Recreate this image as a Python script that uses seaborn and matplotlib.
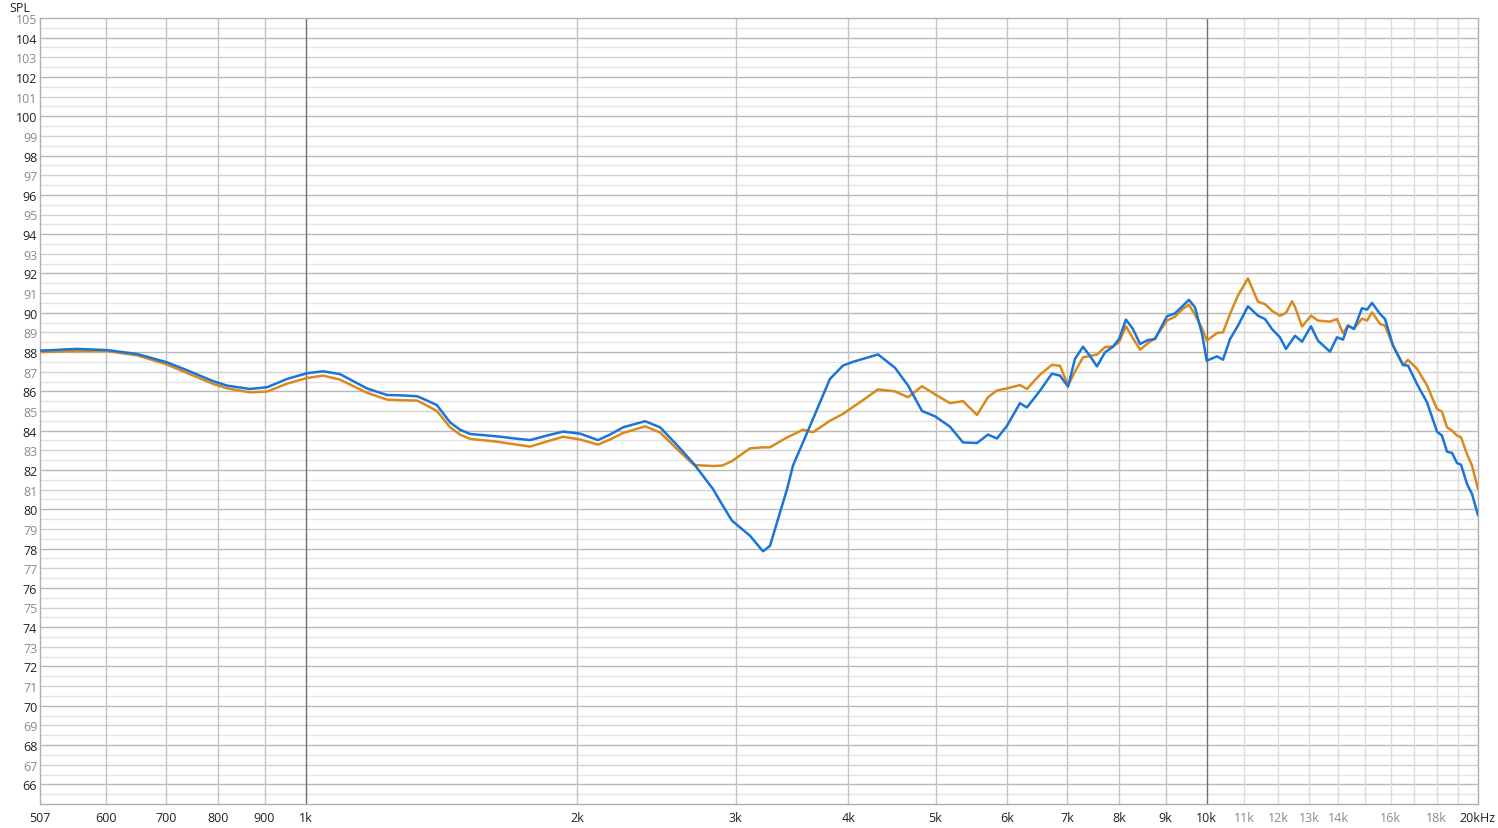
import matplotlib
matplotlib.use("Agg")
import matplotlib.pyplot as plt
import seaborn as sns
import numpy as np
import pandas as pd

# frequency response (Hz / dB SPL)
freq = [507, 557, 602, 650, 701, 734, 763, 789, 818, 867, 906, 953, 1003, 1045, 1091, 1169,
        1231, 1272, 1329, 1356, 1398, 1446, 1483, 1522, 1630, 1707, 1774, 1852, 1930, 2015,
        2110, 2176, 2250, 2380, 2473, 2582, 2697, 2831, 2897, 2972, 3112, 3217, 3275, 3360,
        3420, 3473, 3563, 3655, 3817, 3946, 4048, 4153, 4316,
        4507, 4660, 4830,
        4993, 5188, 5363, 5559, 5717, 5850, 6002, 6204, 6315, 6529, 6732, 6872, 7015, 7140,
        7288, 7420, 7553, 7709, 7868, 7991, 8134, 8281, 8432, 8604, 8760, 9032, 9219, 9410,
        9554, 9703, 9879, 10000, 10264, 10423, 10612, 10829, 11110, 11397, 11604, 11814,
        12056, 12243, 12434, 12529, 12756, 13053, 13287, 13700, 13948, 14165, 14346, 14570,
        14868, 15061, 15257, 15569, 15771, 16098, 16514, 16725, 17114, 17557, 18011, 18240,
        18478, 18718, 18957, 19150, 19448, 19696, 20000]

spl_blue = [88.07, 88.16, 88.10, 87.90, 87.48, 87.12, 86.80, 86.52, 86.29, 86.12, 86.21,
            86.63, 86.92, 87.02, 86.88, 86.15, 85.81, 85.80, 85.75, 85.58, 85.30, 84.42,
            84.05, 83.83, 83.71, 83.60, 83.52, 83.75, 83.95, 83.85, 83.52, 83.80, 84.17,
            84.48, 84.17, 83.27, 82.30, 81.03, 80.25, 79.42, 78.65, 77.86, 78.14, 79.84,
            81.00, 82.22, 83.40, 84.59, 86.63, 87.31, 87.50, 87.65, 87.88,
            87.20, 86.30, 85.00, 84.73,
            84.20, 83.40, 83.37, 83.80, 83.60, 84.25, 85.40, 85.18, 86.03, 86.90, 86.80,
            86.24, 87.65, 88.27, 87.80, 87.27, 87.98, 88.27, 88.66, 89.65, 89.17, 88.41,
            88.61, 88.66, 89.82, 89.97, 90.36, 90.66, 90.28, 88.92, 87.56, 87.78, 87.61,
            88.66, 89.34, 90.33, 89.85, 89.68, 89.17, 88.75, 88.16, 88.60, 88.83, 88.53,
            89.31, 88.58, 88.02, 88.75, 88.63, 89.34, 89.17, 90.23, 90.16, 90.50, 89.94,
            89.68, 88.32, 87.34, 87.31, 86.37, 85.44, 83.95, 83.75, 82.93, 82.86, 82.35,
            82.27, 81.28, 80.78, 79.70]

spl_orange = [88.00, 88.05, 88.05, 87.83, 87.37, 86.98, 86.66, 86.38, 86.15, 85.95, 85.99,
              86.39, 86.68, 86.80, 86.60, 85.93, 85.58, 85.55, 85.53, 85.33, 85.00, 84.17,
              83.80, 83.58, 83.44, 83.30, 83.19, 83.45, 83.69, 83.55, 83.29, 83.55, 83.88,
              84.22, 83.91, 83.07, 82.25, 82.20, 82.22, 82.45, 83.10, 83.15, 83.15, 83.45,
              83.65, 83.80, 84.05, 83.92, 84.50, 84.85, 85.20, 85.55, 86.10,
              86.00, 85.70, 86.26, 85.85,
              85.40, 85.50, 84.80, 85.70, 86.05, 86.15, 86.32, 86.12, 86.85, 87.35, 87.30,
              86.30, 87.00, 87.73, 87.80, 87.87, 88.25, 88.29, 88.50, 89.31, 88.70, 88.12,
              88.45, 88.70, 89.60, 89.80, 90.20, 90.41, 89.90, 89.20, 88.58, 88.97, 89.00,
              89.94, 90.87, 91.75, 90.56, 90.44, 90.10, 89.85, 89.99, 90.58, 90.30, 89.30,
              89.85, 89.60, 89.55, 89.68, 88.95, 89.35, 89.20, 89.70, 89.60, 90.02, 89.43,
              89.34, 88.32, 87.34, 87.60, 87.15, 86.30, 85.10, 84.97, 84.17, 84.00, 83.75,
              83.66, 82.80, 82.22, 81.03]

x_ticks = [507, 600, 700, 800, 900, 1000, 2000, 3000, 4000, 5000, 6000, 7000, 8000, 9000,
           10000, 11000, 12000, 13000, 14000, 16000, 18000, 20000]
x_labels = ["507", "600", "700", "800", "900", "1k", "2k", "3k", "4k", "5k", "6k", "7k",
            "8k", "9k", "10k", "11k", "12k", "13k", "14k", "16k", "18k", "20kHz"]
y_ticks = list(range(66, 106))

df = pd.DataFrame({"freq": freq, "blue": spl_blue, "orange": spl_orange})

sns.set_style("white")
plt.rcParams['font.family'] = ['Open Sans', 'DejaVu Sans']

fig = plt.figure(figsize=(14.98, 8.29), dpi=100)
ax = fig.add_axes([40 / 1498, 24 / 829, 1438 / 1498, 786 / 829])

# horizontal grid: darker on even dB, lighter on odd, faint on halves
for v in np.arange(65.5, 105, 0.5):
    if v % 1:
        c = "#e4e4e4"
    elif v % 2 == 0:
        c = "#b9b9b9"
    else:
        c = "#d2d2d2"
    ax.axhline(v, color=c, lw=1, zorder=0)

# vertical grid
for f in [600, 700, 800, 900] + list(range(2000, 10000, 1000)):
    ax.axvline(f, color="#c4c4c4", lw=1, zorder=0)
for f in range(11000, 20000, 1000):
    ax.axvline(f, color="#dcdcdc", lw=1, zorder=0)
for f in [1000, 10000]:
    ax.axvline(f, color="#707070", lw=1, zorder=0.5)

sns.lineplot(data=df, x="freq", y="orange", ax=ax, color="#d98a1c", lw=1.8, zorder=3,
             solid_joinstyle="round", solid_capstyle="round")
sns.lineplot(data=df, x="freq", y="blue", ax=ax, color="#1a75d6", lw=1.8, zorder=4,
             solid_joinstyle="round", solid_capstyle="round")

ax.set_xscale("log")
ax.set_xlim(507, 20000)
ax.set_ylim(65, 105)
ax.minorticks_off()
ax.set_xticks(x_ticks)
ax.set_xticklabels(x_labels)
ax.set_yticks(y_ticks)
ax.set_yticklabels([str(v) for v in y_ticks])
ax.set_xlabel("")
ax.set_ylabel("")
ax.tick_params(axis="both", length=0, labelsize=9)
ax.tick_params(axis="y", pad=2)
ax.tick_params(axis="x", pad=5)

for lab, f in zip(ax.get_xticklabels(), x_ticks):
    lab.set_color("#8a8a8a" if 10000 < f < 20000 else "#222222")
for lab, v in zip(ax.get_yticklabels(), y_ticks):
    lab.set_color("#222222" if v % 2 == 0 else "#8a8a8a")

for s in ax.spines.values():
    s.set_color("#b0b0b0")
    s.set_linewidth(1)

fig.text(20 / 1498, 1 - 8 / 829, "SPL", ha="center", va="center", fontsize=9, color="#222222")

fig.savefig("out.png", dpi=100)
